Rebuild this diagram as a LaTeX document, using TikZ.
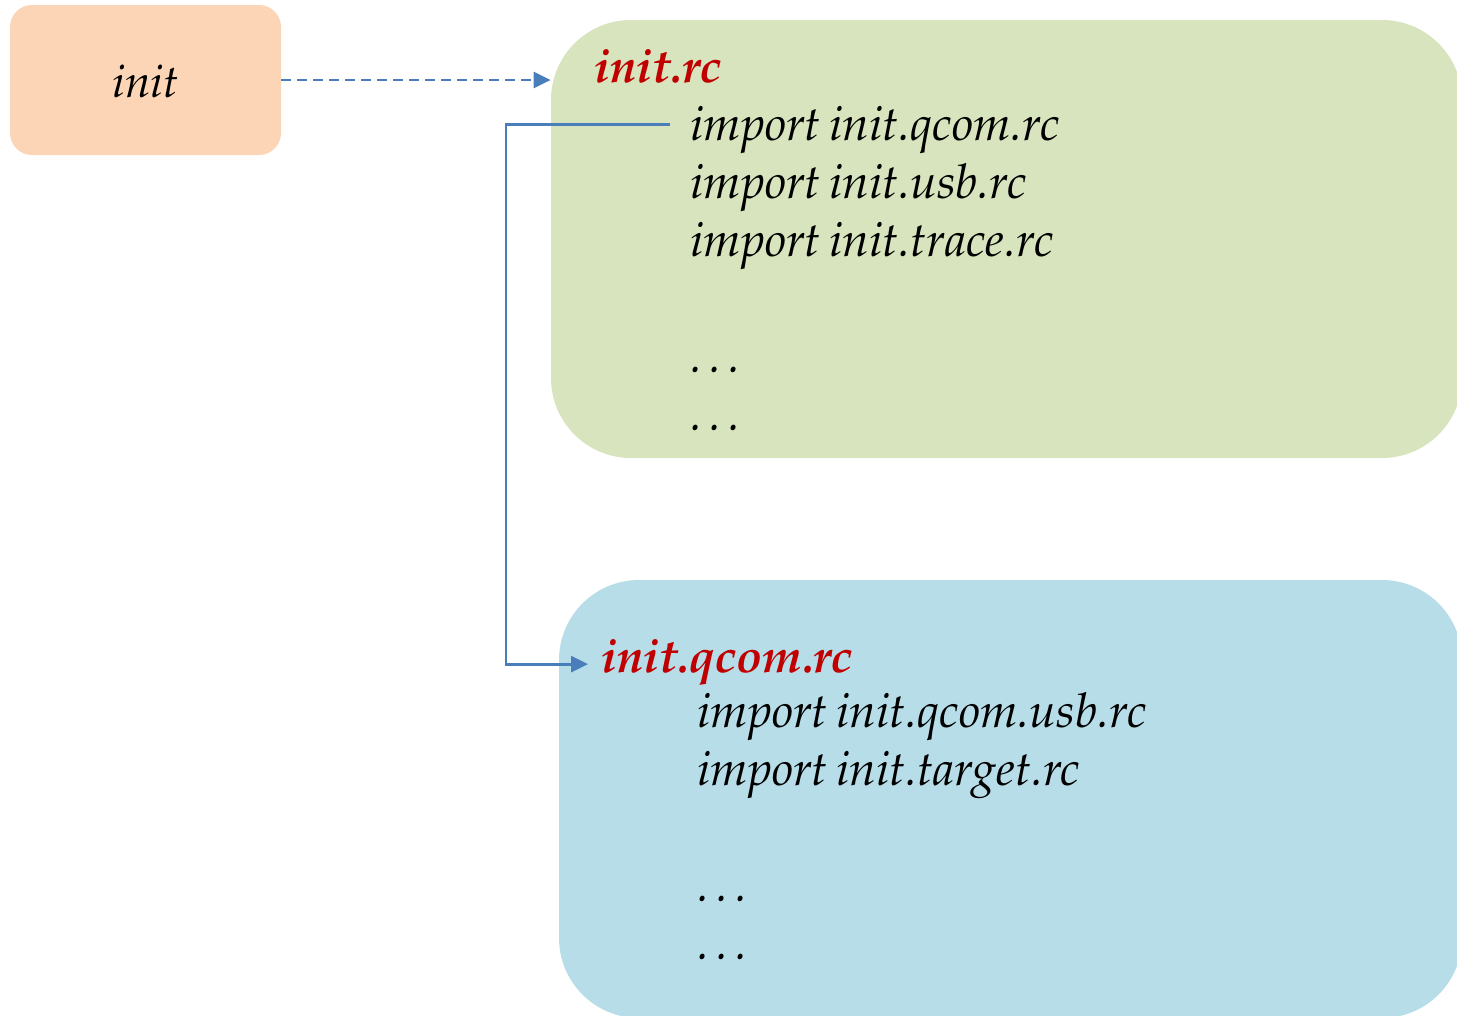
\documentclass[tikz,border=0pt]{standalone}
\usepackage[T1]{fontenc}
\usepackage{mathpazo}
\usepackage{tikz}
\usetikzlibrary{arrows.meta}
\definecolor{initfill}{HTML}{FBD5B5}
\definecolor{rcfill}{HTML}{D7E4BD}
\definecolor{qcomfill}{HTML}{B7DEE8}
\definecolor{linkblue}{HTML}{4A7EBB}
\definecolor{titlered}{HTML}{C00000}
\newcommand{\rclinefont}{\fontsize{27.3}{32}\selectfont\itshape\spaceskip 0.17em\relax}

\begin{document}
\begin{tikzpicture}[
    bigbox/.style={rounded corners=1.6cm, minimum width=18.22cm, minimum height=8.76cm},
    rctext/.style={anchor=base west, inner xsep=0.4cm, inner ysep=0pt, font=\rclinefont},
    rctitle/.style={anchor=base west, inner xsep=0.26cm, inner ysep=0pt, text=titlered, font=\fontsize{27}{32}\selectfont\bfseries\itshape},
    link/.style={linkblue, line width=1.6pt, -{Triangle[length=0.34cm,width=0.32cm]}}
  ]
  \useasboundingbox (0,0) rectangle (29.14,-20.32);
  \clip (0,0) rectangle (29.14,-20.32);

  \node[fill=initfill, rounded corners=0.44cm, minimum width=5.42cm, minimum height=3cm] (initbox) at (2.91,-1.6) {};
  \node[anchor=base, font=\fontsize{26}{31}\selectfont\itshape] (inittext) at (2.91,-1.94) {init};

  \node[bigbox, fill=rcfill] (rcbox) at (20.13,-4.78) {};
  \node[rctitle] (rctitle) at (11.62,-1.64) {init.rc};
  \node[rctext] (qcomline) at (13.4,-2.8) {import init.qcom.rc};
  \node[rctext] (usbline) at (13.4,-3.96) {import init.usb.rc};
  \node[rctext] (traceline) at (13.4,-5.12) {import init.trace.rc};
  \node[rctext] (rcdotsa) at (13.4,-7.44) {\dots};
  \node[rctext] (rcdotsb) at (13.4,-8.6) {\dots};

  \node[bigbox, fill=qcomfill, minimum width=18.06cm] (qcombox) at (20.21,-15.98) {};
  \node[rctitle] (qcomtitle) at (11.76,-13.44) {init.qcom.rc};
  \node[rctext] (qcomusbline) at (13.54,-14.54) {import init.qcom.usb.rc};
  \node[rctext] (targetline) at (13.54,-15.7) {import init.target.rc};
  \node[rctext] (qcomdotsa) at (13.54,-18.02) {\dots};
  \node[rctext] (qcomdotsb) at (13.54,-19.18) {\dots};

  \draw[link, dash pattern=on 0.2cm off 0.12cm] (initbox.east) -- (initbox.east -| rcbox.west);
  \draw[link] ([yshift=0.1cm]qcomline.west) -- ++(-3.28,0) |- ([yshift=-0.05cm]qcomtitle.west);
\end{tikzpicture}
\end{document}
